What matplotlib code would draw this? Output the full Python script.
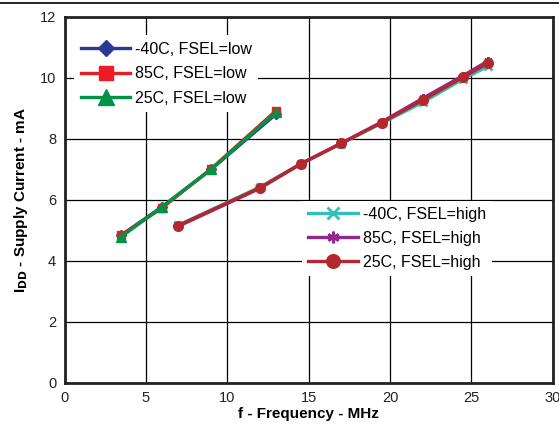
import numpy as np
import matplotlib.pyplot as plt
from matplotlib.lines import Line2D

plt.rcParams['font.family'] = ['Liberation Sans', 'DejaVu Sans']

# FSEL=low series
f_low = [3.5, 6, 9, 13]
i_m40_low = [4.85, 5.78, 7.0, 8.82]
i_85_low = [4.85, 5.74, 7.02, 8.93]
i_25_low = [4.8, 5.78, 7.0, 8.88]

# FSEL=high series
f_high = [7, 12, 14.5, 17, 19.5, 22, 24.5, 26]
i_m40_high = [5.18, 6.42, 7.18, 7.85, 8.52, 9.2, 9.97, 10.38]
i_85_high = [5.14, 6.38, 7.18, 7.86, 8.56, 9.33, 10.08, 10.55]
i_25_high = [5.16, 6.4, 7.18, 7.86, 8.54, 9.27, 10.03, 10.48]

blue = '#2b3990'
red = '#ed1c24'
green = '#009444'
cyan = '#33bfb8'
purple = '#92278f'
dred = '#b2282e'

fig = plt.figure(figsize=(5.59, 4.24), dpi=100)
ax = fig.add_axes([0.1154, 0.0967, 0.8736, 0.8633])

lw = 2.4
l1, = ax.plot(f_low, i_m40_low, color=blue, lw=lw, marker='D', ms=5, label='-40C, FSEL=low')
l2, = ax.plot(f_low, i_85_low, color=red, lw=lw, marker='s', ms=6, label='85C, FSEL=low')
l3, = ax.plot(f_low, i_25_low, color=green, lw=lw, marker='^', ms=7, label='25C, FSEL=low')
h1, = ax.plot(f_high, i_m40_high, color=cyan, lw=lw, marker='x', ms=6, mew=2, label='-40C, FSEL=high')
h2, = ax.plot(f_high, i_85_high, color=purple, lw=lw, marker=(6, 2, 0), ms=6, mew=2, label='85C, FSEL=high')
h3, = ax.plot(f_high, i_25_high, color=dred, lw=lw, marker='o', ms=7, label='25C, FSEL=high')

ax.set_xlim(0, 30)
ax.set_ylim(0, 12)
ax.set_xticks(np.arange(0, 31, 5))
ax.set_yticks(np.arange(0, 13, 2))
ax.grid(True, color='black', lw=0.9)
ax.set_axisbelow(True)
ax.tick_params(length=0, labelsize=10.5, colors='#222222', pad=6)
for s in ax.spines.values():
    s.set_linewidth(2)
    s.set_color('#222222')

ax.set_xlabel('f - Frequency - MHz', fontsize=11, fontweight='bold', labelpad=1)
ax.set_ylabel(r'I$_{\mathbf{DD}}$ - Supply Current - mA', fontsize=11, fontweight='bold', labelpad=7)

leg1 = ax.legend(handles=[l1, l2, l3], loc='upper left', bbox_to_anchor=(0.004, 0.972),
                 frameon=True, fancybox=False, edgecolor='none', facecolor='white', framealpha=1,
                 fontsize=11.5, handlelength=3.1, labelspacing=0.6, markerscale=1.6, handletextpad=0.3)
ax.add_artist(leg1)
leg2 = ax.legend(handles=[h1, h2, h3], loc='upper left', bbox_to_anchor=(0.47, 0.52),
                 frameon=True, fancybox=False, edgecolor='none', facecolor='white', framealpha=1,
                 fontsize=11.5, handlelength=3.1, labelspacing=0.55, markerscale=1.4, handletextpad=0.3)

fig.add_artist(Line2D([0, 1], [0.993, 0.993], color='black', lw=1.2, transform=fig.transFigure))

fig.savefig('out.png', dpi=100)
